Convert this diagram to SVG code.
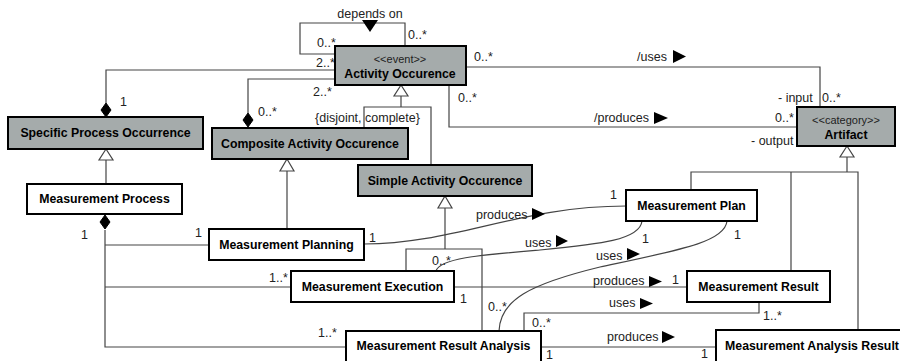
<svg xmlns="http://www.w3.org/2000/svg" width="900" height="361" viewBox="0 0 900 361">
<style>
.box{stroke:#000;stroke-width:2}
.g{fill:#a5abab}
.w{fill:#fff}
.t{font-family:"Liberation Sans",Arial,sans-serif;font-size:12.3px;font-weight:bold;fill:#000;text-anchor:middle}
.st{font-family:"Liberation Sans",Arial,sans-serif;font-size:11px;fill:#222;text-anchor:middle}
.l{font-family:"Liberation Sans",Arial,sans-serif;font-size:12.5px;fill:#222}
.c{fill:none;stroke:#444;stroke-width:1.2}
.hd{fill:#fff;stroke:#444;stroke-width:1.2}
.ar{fill:#000}
.dm{fill:#000;stroke:#000}
</style>
<rect width="900" height="361" fill="#fff"/>
<g id="connectors">
  <polyline class="c" points="335,54 300,54 300,23 405,23 405,46"/>
  <polygon class="ar" points="362,20 378,20 370,32"/>
  <polyline class="c" points="106,103 106,70 335,70"/>
  <polygon class="dm" points="106,103 111,110 106,117 101,110"/>
  <polyline class="c" points="248,113 248,79 335,79"/>
  <polygon class="dm" points="248,113 253,120 248,127 243,120"/>
  <polyline class="c" points="466,67 820,67 820,107"/>
  <polygon class="ar" points="673,50 686,56.5 673,63"/>
  <polyline class="c" points="449,85 449,127 797,127"/>
  <polygon class="ar" points="654,112 668,118 654,124"/>
  <polyline class="c" points="364,128 364,107 431,107 431,165"/>
  <line class="c" x1="401" y1="96" x2="401" y2="107"/>
  <polygon class="hd" points="401,85 408,96 394,96"/>
  <line class="c" x1="106" y1="160" x2="106" y2="184"/>
  <polygon class="hd" points="106,149 113,160 99,160"/>
  <line class="c" x1="287" y1="171" x2="287" y2="229"/>
  <polygon class="hd" points="287,159 294,171 280,171"/>
  <polyline class="c" points="406,271 406,249 482,249 482,331"/>
  <line class="c" x1="445" y1="208" x2="445" y2="249"/>
  <polygon class="hd" points="445,196 452,208 438,208"/>
  <polyline class="c" points="691,190 691,172 858,172 858,330"/>
  <line class="c" x1="791" y1="172" x2="791" y2="271"/>
  <line class="c" x1="847" y1="157" x2="847" y2="172"/>
  <polygon class="hd" points="847,146 854,157 840,157"/>
  <polyline class="c" points="105,230 105,347 346,347"/>
  <line class="c" x1="105" y1="245" x2="209" y2="245"/>
  <line class="c" x1="105" y1="287" x2="291" y2="287"/>
  <polygon class="dm" points="105,215 110,222 105,229 100,222"/>
  <path class="c" d="M364,244 C455,244 520,206 626,206"/>
  <polygon class="ar" points="532,208 545,214 532,220"/>
  <path class="c" d="M436,271 C440,258 480,255 540,250 C600,244 640,240 642,221"/>
  <polygon class="ar" points="556,235 568,241 556,247"/>
  <path class="c" d="M499,331 C500,300 530,284 600,267 C680,250 725,242 727,221"/>
  <polygon class="ar" points="627,248 640,254 627,260"/>
  <line class="c" x1="454" y1="287" x2="687" y2="287"/>
  <polygon class="ar" points="649,276 662,281.5 649,287"/>
  <polyline class="c" points="759,302 759,313 524,313 524,331"/>
  <polygon class="ar" points="640,298 653,303.5 640,309"/>
  <line class="c" x1="541" y1="347" x2="716" y2="347"/>
  <polygon class="ar" points="662,331 675,337 662,343"/>
</g>
<g id="labels">
  <text class="l" x="370" y="18" text-anchor="middle">depends on</text>
  <text class="l" x="317" y="47">0..*</text>
  <text class="l" x="408" y="39">0..*</text>
  <text class="l" x="316" y="67">2..*</text>
  <text class="l" x="313" y="96">2..*</text>
  <text class="l" x="120" y="106">1</text>
  <text class="l" x="258" y="116">0..*</text>
  <text class="l" x="474" y="61">0..*</text>
  <text class="l" x="637" y="61">/uses</text>
  <text class="l" x="778" y="102">- input</text>
  <text class="l" x="822" y="102">0..*</text>
  <text class="l" x="458" y="102">0..*</text>
  <text class="l" x="594" y="122">/produces</text>
  <text class="l" x="775" y="122">0..*</text>
  <text class="l" x="751" y="145">- output</text>
  <text class="l" x="315" y="122">{disjoint, complete}</text>
  <text class="l" x="81" y="239">1</text>
  <text class="l" x="195" y="237">1</text>
  <text class="l" x="269" y="282">1..*</text>
  <text class="l" x="318" y="337">1..*</text>
  <text class="l" x="369" y="242">1</text>
  <text class="l" x="610" y="199">1</text>
  <text class="l" x="476" y="219">produces</text>
  <text class="l" x="525" y="247">uses</text>
  <text class="l" x="432" y="265">0..*</text>
  <text class="l" x="642" y="243">1</text>
  <text class="l" x="596" y="260">uses</text>
  <text class="l" x="734" y="239">1</text>
  <text class="l" x="488" y="311">0..*</text>
  <text class="l" x="593" y="285">produces</text>
  <text class="l" x="672" y="284">1</text>
  <text class="l" x="460" y="303">1</text>
  <text class="l" x="609" y="307">uses</text>
  <text class="l" x="763" y="320">1..*</text>
  <text class="l" x="532" y="327">0..*</text>
  <text class="l" x="607" y="341">produces</text>
  <text class="l" x="546" y="359">1</text>
  <text class="l" x="701" y="358">1</text>
</g>
<g id="activity-occurence">
  <rect class="box g" x="335" y="46" width="131" height="39"/>
  <text class="st" x="400" y="63">&lt;&lt;event&gt;&gt;</text>
  <text class="t" x="400" y="78">Activity Occurence</text>
</g>
<g id="specific-process-occurrence">
  <rect class="box g" x="8" y="117" width="195" height="32"/>
  <text class="t" x="105.5" y="137">Specific Process Occurrence</text>
</g>
<g id="composite-activity-occurence">
  <rect class="box g" x="212" y="128" width="196" height="31"/>
  <text class="t" x="310" y="148">Composite Activity Occurence</text>
</g>
<g id="simple-activity-occurence">
  <rect class="box g" x="358" y="165" width="174" height="31"/>
  <text class="t" x="445" y="185">Simple Activity Occurence</text>
</g>
<g id="artifact">
  <rect class="box g" x="797" y="107" width="98" height="39"/>
  <text class="st" x="846" y="124">&lt;&lt;category&gt;&gt;</text>
  <text class="t" x="846" y="139">Artifact</text>
</g>
<g id="measurement-process">
  <rect class="box w" x="27" y="184" width="155" height="30"/>
  <text class="t" x="104.5" y="203">Measurement Process</text>
</g>
<g id="measurement-planning">
  <rect class="box w" x="209" y="229" width="155" height="31"/>
  <text class="t" x="286.5" y="249">Measurement Planning</text>
</g>
<g id="measurement-plan">
  <rect class="box w" x="626" y="190" width="131" height="31"/>
  <text class="t" x="691.5" y="210">Measurement Plan</text>
</g>
<g id="measurement-execution">
  <rect class="box w" x="291" y="271" width="163" height="31"/>
  <text class="t" x="372.5" y="291">Measurement Execution</text>
</g>
<g id="measurement-result">
  <rect class="box w" x="687" y="271" width="143" height="31"/>
  <text class="t" x="758.5" y="291">Measurement Result</text>
</g>
<g id="measurement-result-analysis">
  <rect class="box w" x="346" y="331" width="195" height="33"/>
  <text class="t" x="443.5" y="350">Measurement Result Analysis</text>
</g>
<g id="measurement-analysis-result">
  <rect class="box w" x="716" y="330" width="192" height="33"/>
  <text class="t" x="812" y="350">Measurement Analysis Result</text>
</g>
</svg>
